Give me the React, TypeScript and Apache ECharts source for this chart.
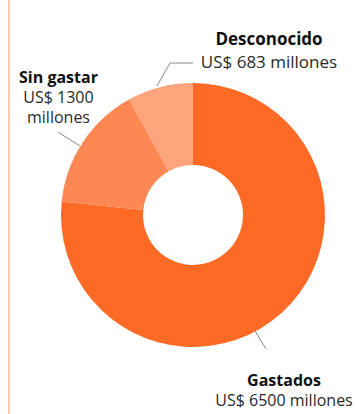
import React, { useEffect, useRef } from "react";
import * as echarts from "echarts";

const categories = ["Gastados", "Sin gastar", "Desconocido"];
const values = [6500, 1300, 683];
const valueTexts = ["US$ 6500 millones", "US$ 1300\nmillones", "US$ 683 millones"];
const colors = ["#FC6A25", "#FD8853", "#FEA47D"];

// annotation placement (label block centre, line height, font size, leader line points)
const labelPos = [
  { x: 284, y: 390, lh: 20, fs: 16, line: [[255, 331], [266, 349], [266, 349]] },
  { x: 58.5, y: 97, lh: 20, fs: 16, line: [[80, 146], [58, 132], [58, 132]] },
  { x: 269, y: 50, lh: 23, fs: 17, line: [[157, 86], [170, 63], [193, 63]] },
];

const FONT = "Open Sans";

export default function App() {
  const ref = useRef<HTMLDivElement>(null);
  useEffect(() => {
    if (!ref.current) return;
    const chart = echarts.init(ref.current, null, { renderer: "svg" });
    chart.setOption({
      animation: false,
      graphic: [
        {
          type: "line",
          shape: { x1: 9, y1: 0, x2: 9, y2: 414 },
          style: { stroke: "#F6B79C", lineWidth: 1.5 },
          silent: true,
        },
      ],
      series: [
        {
          type: "pie",
          center: [193, 215],
          radius: [50, 132],
          startAngle: 90,
          clockwise: true,
          silent: true,
          emphasis: { disabled: true },
          data: categories.map((c, i) => ({
            name: c,
            value: values[i],
            itemStyle: { color: colors[i] },
            label: {
              formatter: () => `{b|${c}}\n{v|${valueTexts[i]}}`,
              rich: {
                b: { fontFamily: FONT, fontWeight: "bold", fontSize: labelPos[i].fs, lineHeight: labelPos[i].lh, color: "#111", align: "center" },
                v: { fontFamily: FONT, fontSize: labelPos[i].fs, lineHeight: labelPos[i].lh, color: "#2a2a2a", align: "center" },
              },
            },
          })),
          label: {
            show: true,
            position: "outside",
            align: "center",
            overflow: "none",
            edgeDistance: 0,
            fontFamily: FONT,
          },
          labelLine: {
            show: true,
            lineStyle: { color: "#8a8a8a", width: 1 },
          },
          labelLayout: (params: any) => {
            const p = labelPos[params.dataIndex];
            return {
              x: p.x,
              y: p.y,
              align: "center",
              verticalAlign: "middle",
              labelLinePoints: p.line,
            };
          },
        },
      ],
    });
    return () => chart.dispose();
  }, []);
  return (
    <div
      ref={ref}
      style={{ position: "fixed", left: 0, top: 0, width: 357, height: 414, background: "#fff" }}
    />
  );
}
